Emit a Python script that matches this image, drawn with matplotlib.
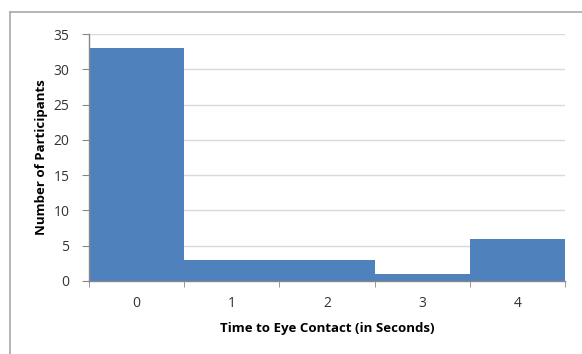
import matplotlib
matplotlib.use("Agg")
import matplotlib.pyplot as plt
from matplotlib.lines import Line2D
import numpy as np

categories = ["0", "1", "2", "3", "4"]
counts = [33, 3, 3, 1, 6]
y_ticks = [0, 5, 10, 15, 20, 25, 30, 35]

plt.rcParams['font.family'] = ['Open Sans', 'DejaVu Sans']

fig = plt.figure(figsize=(5.82, 3.54), dpi=100)
ax = fig.add_axes([89/582, 1-281/354, (565-89)/582, (281-34)/354])

x = np.arange(len(categories))
ax.bar(x, counts, width=1.0, color="#4F81BD", edgecolor="none", zorder=2)
ax.set_xlim(-0.5, len(categories)-0.5)
ax.set_ylim(0, 35)
ax.set_yticks(y_ticks)
ax.set_yticklabels([str(v) for v in y_ticks], fontsize=10, color="#333333")
ax.set_xticks(x)
ax.set_xticklabels(categories, fontsize=10, color="#333333")
ax.set_xticks(np.arange(-0.5, len(categories)), minor=True)
ax.tick_params(axis='x', which='major', length=0, pad=11)
ax.tick_params(axis='x', which='minor', length=4, color="#888888", direction='out')
ax.tick_params(axis='y', length=5, color="#888888", direction='out', pad=9)
ax.grid(axis='y', color="#D9D9D9", linewidth=1, zorder=0)
ax.set_axisbelow(True)
for s in ['top', 'right']:
    ax.spines[s].set_visible(False)
for s in ['left', 'bottom']:
    ax.spines[s].set_color("#888888")
    ax.spines[s].set_linewidth(1)

ax.set_xlabel("Time to Eye Contact (in Seconds)", fontsize=9.5, fontweight='bold', labelpad=8)
ax.set_ylabel("Number of Participants", fontsize=9.5, fontweight='bold', labelpad=4)

# outer chart border (top and left visible)
fig.add_artist(Line2D([10/582, 1.0], [1-12/354, 1-12/354], color="#A8A8A8", linewidth=1.2, transform=fig.transFigure))
fig.add_artist(Line2D([10/582, 10/582], [1-12/354, 0.0], color="#A8A8A8", linewidth=1.2, transform=fig.transFigure))

fig.savefig("out.png", dpi=100)
